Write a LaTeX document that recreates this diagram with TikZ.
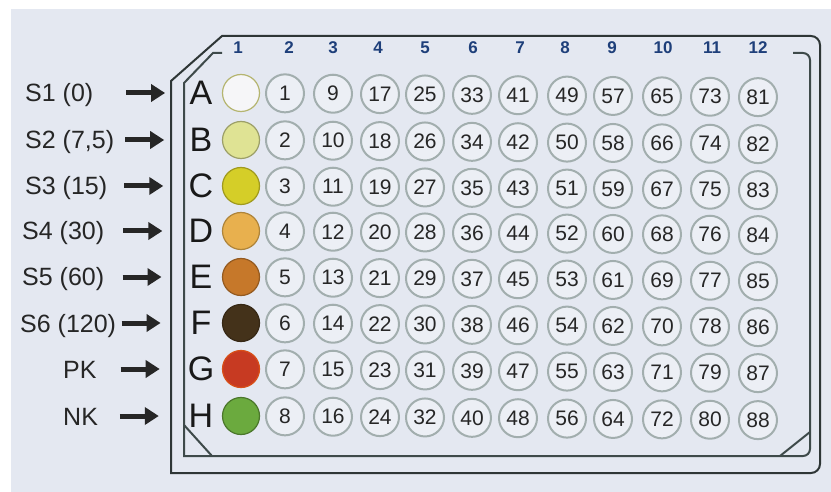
\documentclass[tikz,border=0pt]{standalone}
\usepackage{fontspec}
\setmainfont{Liberation Sans}
\usetikzlibrary{arrows.meta}
\definecolor{paper}{HTML}{E4E8F1}
\definecolor{wellin}{HTML}{ECEFF5}
\definecolor{wellline}{HTML}{A2AEAE}
\definecolor{frameline}{HTML}{2E3636}
\definecolor{innerline}{HTML}{3E4A4A}
\definecolor{colblue}{HTML}{1E3F7A}
\definecolor{cA}{HTML}{F6F6F8}
\definecolor{cB}{HTML}{DFE394}
\definecolor{cC}{HTML}{D5CE28}
\definecolor{cD}{HTML}{E8B04E}
\definecolor{cE}{HTML}{C6782A}
\definecolor{cF}{HTML}{44321A}
\definecolor{cG}{HTML}{C73A22}
\definecolor{cH}{HTML}{6BAA3E}
\tikzset{
  well/.style={circle, minimum size=38pt, inner sep=0pt, draw=wellline, line width=2pt, fill=wellin,
    font=\fontsize{21}{21}\selectfont, text=black!85},
  cwell/.style={circle, minimum size=37pt, inner sep=0pt, line width=1.2pt},
  colhead/.style={font=\fontsize{17}{17}\selectfont\bfseries, text=colblue, inner sep=0pt},
  rowletter/.style={font=\fontsize{34}{34}\selectfont, text=black!90, inner sep=0pt},
  rowlabel/.style={font=\fontsize{25}{25}\selectfont, text=black!85, inner sep=0pt, anchor=base west},
  rowarrow/.style={line width=5pt, draw=black!85, -{Triangle[length=14pt,width=17pt]}},
  outerframe/.style={draw=frameline, line width=2pt},
  innerframe/.style={draw=innerline, line width=2pt}
}
\begin{document}
\begin{tikzpicture}[x=1pt,y=-1pt]
\useasboundingbox (0,0) rectangle (831,492);
\fill[white] (0,0) rectangle (831,492);
\fill[paper] (11,9) rectangle (831,492);

% outer frame
\draw[outerframe] (222,36) [rounded corners=9pt]-- (820,36) -- (820,473) [sharp corners]-- (171,473) -- (171,81) -- cycle;
% inner frame
\draw[innerframe] (793,53) [rounded corners=7pt]-- (810,53) -- (810,456) [sharp corners]-- (184,456) -- (184,83) -- (213,53) -- (222,53);
\draw[innerframe] (184,425) -- (212,456);
\draw[innerframe] (780,456) -- (810,432);

% column headers
\foreach \c/\xx in {1/238,2/289,3/333,4/378,5/425,6/473,7/520,8/565,9/612,10/663,11/712,12/758}
  \node[colhead] (h\c) at (\xx,48) {\c};

% row letters, coloured wells, labels and arrows
\foreach \r/\L/\yy/\col/\edge/\lab/\lx in {
  1/A/93/cA/cA!45!olive/{S1 (0)}/25,
  2/B/140/cB/cB!70!black/{S2 (7,5)}/25,
  3/C/186/cC/cC!75!black/{S3 (15)}/25,
  4/D/231/cD/cD!75!black/{S4 (30)}/22,
  5/E/277/cE/cE!75!black/{S5 (60)}/22,
  6/F/323/cF/cF!80!black/{S6 (120)}/20,
  7/G/369/cG/cG!70!orange/{PK}/63,
  8/H/416/cH/cH!70!black/{NK}/63}
{
  \node[rowletter] (L\r) at (201,\yy) {\L};
  \node[cwell, fill=\col, draw=\edge] (c\r) at (241,\yy) {};
  \node[rowlabel] (lab\r) at (\lx,\yy+9) {\lab};
  \pgfmathsetmacro\ax{127-\r*0.9}
  \coordinate (as\r) at (\ax,\yy);
  \coordinate (ae\r) at (\ax+39,\yy);
  \draw[rowarrow] (as\r) -- (ae\r);
}

% numbered wells
\foreach \c/\xx in {2/285,3/333,4/380,5/425,6/472,7/518,8/567,9/613,10/662,11/710,12/758}
  \foreach \r/\yy in {1/93,2/140,3/186,4/231,5/277,6/323,7/369,8/416}
  {
    \pgfmathtruncatemacro\num{(\c-2)*8+\r}
    \pgfmathsetmacro\yw{\yy+(\xx-242)*0.008}
    \node[well] (w\r-\c) at (\xx,\yw) {\num};
  }
\end{tikzpicture}
\end{document}
